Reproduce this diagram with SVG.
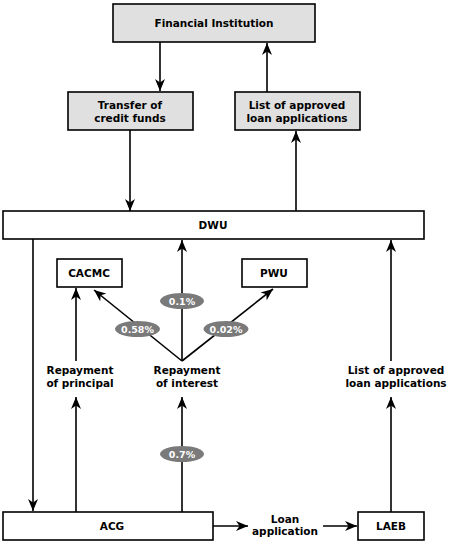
<svg xmlns="http://www.w3.org/2000/svg" width="450" height="544" viewBox="0 0 450 544">
<defs>
<marker id="ah" viewBox="0 0 12 10" refX="12" refY="5" markerWidth="12" markerHeight="10" markerUnits="userSpaceOnUse" orient="auto">
<path d="M0,0 L12,5 L0,10 L3.5,5 Z" fill="#000"/>
</marker>
<style>
.box{fill:#fff;stroke:#000;stroke-width:1.6}
.gbox{fill:#e0e0e0;stroke:#000;stroke-width:1.6}
.t{font-family:"DejaVu Sans",Verdana,sans-serif;font-weight:bold;font-size:10.5px;text-anchor:middle;fill:#000}
.pct{font-family:"DejaVu Sans",Verdana,sans-serif;font-weight:bold;font-size:9.5px;text-anchor:middle;fill:#fff}
.el{fill:#7a7a7a}
.a{stroke:#000;stroke-width:1.6;fill:none;marker-end:url(#ah)}
</style>
</defs>
<rect width="450" height="544" fill="#fff"/>
<g id="connectors">
<line class="a" x1="160" y1="42" x2="160" y2="91"/>
<line class="a" x1="267" y1="92" x2="267" y2="43"/>
<line class="a" x1="130" y1="130" x2="130" y2="211"/>
<line class="a" x1="296" y1="211" x2="296" y2="131"/>
<line class="a" x1="33" y1="239" x2="33" y2="511"/>
<line class="a" x1="76" y1="361" x2="76" y2="288"/>
<line class="a" x1="76" y1="512" x2="76" y2="397"/>
<line class="a" x1="182" y1="361" x2="182" y2="240"/>
<line class="a" x1="182" y1="361" x2="94" y2="290"/>
<line class="a" x1="182" y1="361" x2="273" y2="289"/>
<line class="a" x1="182" y1="512" x2="182" y2="397"/>
<line class="a" x1="391" y1="361" x2="391" y2="240"/>
<line class="a" x1="391" y1="512" x2="391" y2="397"/>
<line class="a" x1="213" y1="526" x2="248" y2="526"/>
<line class="a" x1="323" y1="526" x2="357" y2="526"/>
</g>
<g id="financial-institution">
<rect class="gbox" x="113" y="4" width="202" height="38"/>
<text class="t" x="214" y="26.5">Financial Institution</text>
</g>
<g id="transfer">
<rect class="gbox" x="68" y="92" width="125" height="38"/>
<text class="t" x="130" y="109">Transfer of</text>
<text class="t" x="130" y="122">credit funds</text>
</g>
<g id="list-top">
<rect class="gbox" x="235" y="92" width="125" height="38"/>
<text class="t" x="297" y="109">List of approved</text>
<text class="t" x="297" y="122">loan applications</text>
</g>
<g id="dwu">
<rect class="box" x="3" y="211" width="421" height="28"/>
<text class="t" x="213" y="229">DWU</text>
</g>
<g id="cacmc">
<rect class="box" x="57" y="259" width="65" height="28"/>
<text class="t" x="89" y="277">CACMC</text>
</g>
<g id="pwu">
<rect class="box" x="242" y="259" width="65" height="28"/>
<text class="t" x="274" y="277">PWU</text>
</g>
<g id="pct-01">
<ellipse class="el" cx="182" cy="301" rx="22" ry="8"/>
<text class="pct" x="182" y="304.5">0.1%</text>
</g>
<g id="pct-058">
<ellipse class="el" cx="137.5" cy="329" rx="22.5" ry="8"/>
<text class="pct" x="137.5" y="332.5">0.58%</text>
</g>
<g id="pct-002">
<ellipse class="el" cx="226" cy="329" rx="22.5" ry="8"/>
<text class="pct" x="226" y="332.5">0.02%</text>
</g>
<g id="pct-07">
<ellipse class="el" cx="182" cy="454" rx="22" ry="8"/>
<text class="pct" x="182" y="457.5">0.7%</text>
</g>
<g id="repay-principal">
<text class="t" x="80" y="374">Repayment</text>
<text class="t" x="80" y="387">of principal</text>
</g>
<g id="repay-interest">
<text class="t" x="187" y="374">Repayment</text>
<text class="t" x="187" y="387">of interest</text>
</g>
<g id="list-right">
<text class="t" x="396" y="374">List of approved</text>
<text class="t" x="396" y="387">loan applications</text>
</g>
<g id="acg">
<rect class="box" x="3" y="512" width="210" height="28"/>
<text class="t" x="112" y="530">ACG</text>
</g>
<g id="loan-application">
<text class="t" x="285" y="523">Loan</text>
<text class="t" x="285" y="535">application</text>
</g>
<g id="laeb">
<rect class="box" x="358" y="512" width="66" height="28"/>
<text class="t" x="391" y="530">LAEB</text>
</g>
</svg>
